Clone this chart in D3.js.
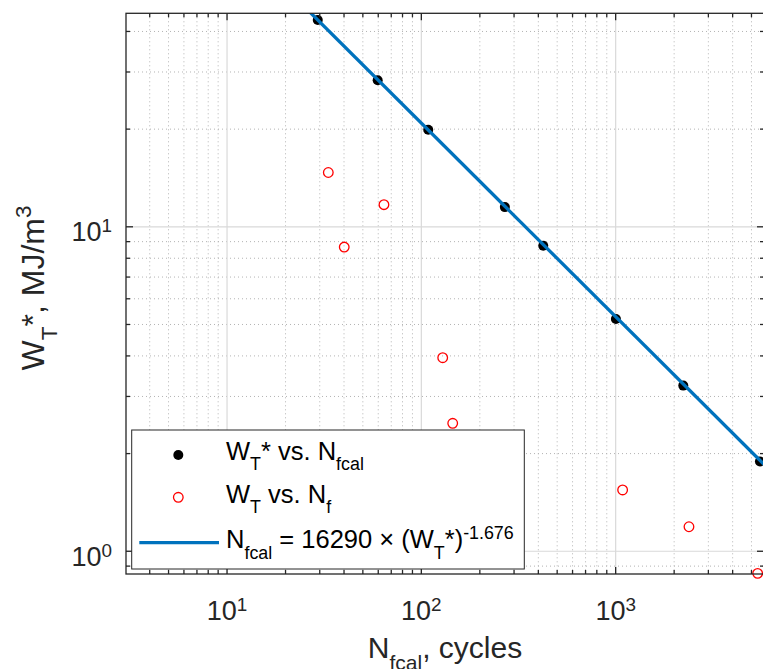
<!DOCTYPE html>
<html>
<head>
<meta charset="utf-8">
<script src="https://cdn.jsdelivr.net/npm/d3@7"></script>
<style>
  html, body { margin:0; padding:0; background:#fff; overflow:hidden; }
  svg { display:block; font-family: "Liberation Sans", Arial, Helvetica, sans-serif; }
</style>
</head>
<body>
<div id="chart"></div>
<script>
// W_T* vs N_fcal (black dots, on the fit)
const calN = [29.3, 59.6, 108.5, 269, 424, 1003, 2228, 5528];
const calW = [43.4, 28.3, 19.9, 11.5, 8.74, 5.20, 3.24, 1.89];
// W_T vs N_f (red open circles)
const expN = [33.2, 64.2, 40.1, 128.8, 145, 1086, 2384, 5379];
const expW = [14.7, 11.7, 8.66, 3.95, 2.48, 1.545, 1.19, 0.855];
// fit line N_fcal = 16290 x (W_T*)^-1.676, two end points
const fitN = [25, 6000];
const fitW = [47.7, 1.815];

const xMajor = [10, 100, 1000];
const xMinor = [4,5,6,7,8,9, 20,30,40,50,60,70,80,90, 200,300,400,500,600,700,800,900, 2000,3000,4000,5000];
const yMajor = [1, 10];
const yMinor = [0.9, 2,3,4,5,6,7,8,9, 20,30,40];
const xTickLabels = ['1', '2', '3'];   // exponents of 10
const yTickLabels = ['0', '1'];

const W = 763, H = 669;
const L = 126, R = 764, T = 13.3, B = 574;
const ink = '#262626';

const svg = d3.select('#chart').append('svg').attr('width', W).attr('height', H);

const x = d3.scaleLog().domain([3.02, 5800]).range([L, R]);
const y = d3.scaleLog().domain([0.851, 45.5]).range([B, T]);

// rich text helper: parts like {t:'W'}, {t:'T', sub:true}, {t:'3', sup:true}
function rich(sel, parts, fs, subShift, supShift){
  let cur = 0;
  parts.forEach(p => {
    const sh = p.sub ? fs*subShift : (p.sup ? -fs*supShift : 0);
    sel.append('tspan')
      .attr('dy', sh - cur)
      .style('font-size', (p.sub || p.sup ? fs*0.7 : fs) + 'px')
      .text(p.t);
    cur = sh;
  });
}

// grid
const grid = svg.append('g');
grid.selectAll('line.xmin').data(xMinor).join('line')
  .attr('x1', d => x(d)).attr('x2', d => x(d)).attr('y1', T).attr('y2', B)
  .attr('stroke', '#b3b3b3').attr('stroke-width', 1).attr('stroke-dasharray', '1,3');
grid.selectAll('line.ymin').data(yMinor).join('line')
  .attr('y1', d => y(d)).attr('y2', d => y(d)).attr('x1', L).attr('x2', R)
  .attr('stroke', '#b3b3b3').attr('stroke-width', 1).attr('stroke-dasharray', '1,3');
grid.selectAll('line.xmaj').data(xMajor).join('line')
  .attr('x1', d => x(d)).attr('x2', d => x(d)).attr('y1', T).attr('y2', B)
  .attr('stroke', '#d9d9d9').attr('stroke-width', 1.2);
grid.selectAll('line.ymaj').data(yMajor).join('line')
  .attr('y1', d => y(d)).attr('y2', d => y(d)).attr('x1', L).attr('x2', R)
  .attr('stroke', '#d9d9d9').attr('stroke-width', 1.2);

// data
svg.append('clipPath').attr('id', 'clip').append('rect')
  .attr('x', L).attr('y', T).attr('width', R - L).attr('height', B - T);

svg.append('g').selectAll('circle').data(calN).join('circle')
  .attr('cx', d => x(d)).attr('cy', (d,i) => y(calW[i])).attr('r', 5)
  .attr('fill', '#000');

svg.append('g').selectAll('circle').data(expN).join('circle')
  .attr('cx', d => x(d)).attr('cy', (d,i) => y(expW[i])).attr('r', 4.8)
  .attr('fill', 'none').attr('stroke', '#ff0000').attr('stroke-width', 1.3);

const line = d3.line().x(d => x(d[0])).y(d => y(d[1]));
svg.append('path').datum(fitN.map((n,i) => [n, fitW[i]]))
  .attr('clip-path', 'url(#clip)')
  .attr('d', line).attr('fill', 'none').attr('stroke', '#0072BD').attr('stroke-width', 3.3);

// axes box + ticks (inward, all sides)
const ax = svg.append('g').attr('stroke', ink).attr('stroke-width', 1.3);
ax.append('rect').attr('x', L).attr('y', T).attr('width', R - L).attr('height', B - T).attr('fill', 'none');
[[xMajor, 7], [xMinor, 4]].forEach(([vals, len]) => {
  ax.append('g').selectAll('line').data(vals).join('line')
    .attr('x1', d => x(d)).attr('x2', d => x(d)).attr('y1', B).attr('y2', B - len);
  ax.append('g').selectAll('line').data(vals).join('line')
    .attr('x1', d => x(d)).attr('x2', d => x(d)).attr('y1', T).attr('y2', T + len);
});
[[yMajor, 7], [yMinor, 4]].forEach(([vals, len]) => {
  ax.append('g').selectAll('line').data(vals).join('line')
    .attr('y1', d => y(d)).attr('y2', d => y(d)).attr('x1', L).attr('x2', L + len);
  ax.append('g').selectAll('line').data(vals).join('line')
    .attr('y1', d => y(d)).attr('y2', d => y(d)).attr('x1', R).attr('x2', R - len);
});

// tick labels
const tfs = 27;
xMajor.forEach((v, i) => {
  const t = svg.append('text').attr('x', x(v)).attr('y', 620).attr('text-anchor', 'middle').attr('fill', ink);
  rich(t, [{t:'10'}, {t:xTickLabels[i], sup:true}], tfs, 0.4, 0.33);
});
yMajor.forEach((v, i) => {
  const t = svg.append('text').attr('x', 112).attr('y', y(v) + 14.5).attr('text-anchor', 'end').attr('fill', ink);
  rich(t, [{t:'10'}, {t:yTickLabels[i], sup:true}], tfs, 0.4, 0.33);
});

// axis labels
const xl = svg.append('text').attr('x', (L + R) / 2).attr('y', 658).attr('text-anchor', 'middle').attr('fill', ink);
rich(xl, [{t:'N'}, {t:'fcal', sub:true}, {t:', cycles'}], 30, 0.4, 0.35);

const yl = svg.append('text').attr('transform', `translate(44,288) rotate(-90)`)
  .attr('text-anchor', 'middle').attr('fill', ink);
rich(yl, [{t:'W'}, {t:'T', sub:true}, {t:'*, MJ/m'}, {t:'3', sup:true}], 32, 0.4, 0.4);

// legend
const lg = svg.append('g');
lg.append('rect').attr('x', 131.7).attr('y', 430).attr('width', 392.6).attr('height', 139)
  .attr('fill', '#fff').attr('stroke', ink).attr('stroke-width', 1);
const lfs = 25.5;
lg.append('circle').attr('cx', 178.3).attr('cy', 455).attr('r', 5).attr('fill', '#000');
lg.append('circle').attr('cx', 178.3).attr('cy', 497.3).attr('r', 4.8)
  .attr('fill', 'none').attr('stroke', '#ff0000').attr('stroke-width', 1.3);
lg.append('line').attr('x1', 139.3).attr('x2', 219).attr('y1', 542.7).attr('y2', 542.7)
  .attr('stroke', '#0072BD').attr('stroke-width', 3.3);
const legendRows = [
  [{t:'W'}, {t:'T', sub:true}, {t:'* vs. N'}, {t:'fcal', sub:true}],
  [{t:'W'}, {t:'T', sub:true}, {t:' vs. N'}, {t:'f', sub:true}],
  [{t:'N'}, {t:'fcal', sub:true}, {t:' = 16290 × (W'}, {t:'T', sub:true}, {t:'*)'}, {t:'-1.676', sup:true}]
];
const legendBase = [460, 502.7, 548.3];
legendRows.forEach((parts, i) => {
  const t = lg.append('text').attr('x', 226).attr('y', legendBase[i]).attr('fill', '#000');
  rich(t, parts, lfs, 0.4, 0.36);
});
</script>
</body>
</html>
